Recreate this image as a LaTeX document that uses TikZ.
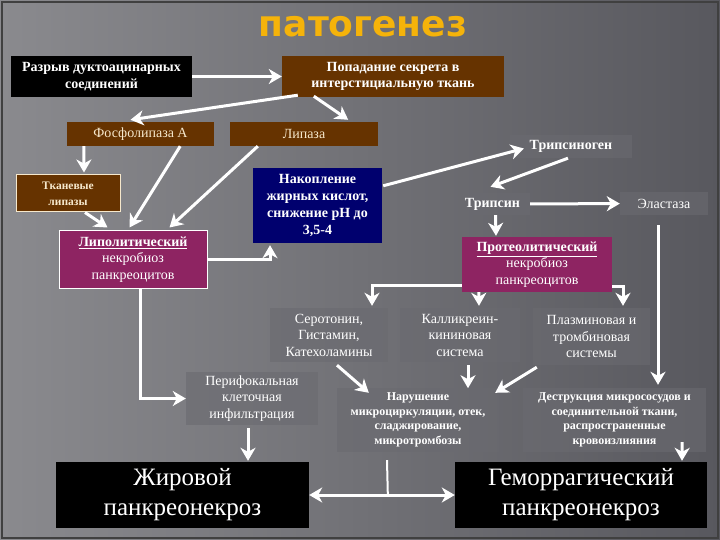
\documentclass[tikz,border=0pt]{standalone}
\usepackage{fontspec}
\setmainfont{Liberation Serif}
\newfontfamily\titlefont{DejaVu Sans}
\usetikzlibrary{arrows.meta,calc}
\definecolor{bgleft}{HTML}{8A8A8E}
\definecolor{bgright}{HTML}{58585E}
\definecolor{brownc}{HTML}{663300}
\definecolor{creamc}{HTML}{F6E8CC}
\definecolor{navyc}{HTML}{00006E}
\definecolor{magc}{HTML}{8E2462}
\definecolor{orangec}{HTML}{F5B30A}
\definecolor{faintc}{HTML}{6A6A70}

\begin{document}
\begin{tikzpicture}[x=1pt, y=-1pt, >={Stealth[length=13pt, width=15pt, inset=4pt]},
                    every edge/.style={draw=white, line width=3pt},
                    arr/.style={->, draw=white, line width=3pt},
                    blackbox/.style={fill=black, text=white, align=center, inner sep=0pt},
                    brownbox/.style={fill=brownc, text=creamc, align=center, inner sep=0pt},
                    navybox/.style={fill=navyc, text=white, align=center, inner sep=0pt},
                    magbox/.style={fill=magc, text=white, align=center, inner sep=0pt},
                    faintbox/.style={fill=faintc, fill opacity=0.6, text opacity=1, text=white, align=center, inner sep=0pt},
                    txt/.style={font=\fontsize{14}{16.5}\selectfont},
                    boldtxt/.style={font=\fontsize{14}{16.5}\selectfont\bfseries},
                    smalltxt/.style={font=\fontsize{12}{14.5}\selectfont\bfseries},
                    bigtxt/.style={font=\fontsize{25}{30}\selectfont}]

\shade[left color=bgleft, right color=bgright] (0,0) rectangle (720,540);
\draw[black!75, line width=2pt] (2,2) rectangle (718,538);
\useasboundingbox (0,0) rectangle (720,540);

\node[text=orangec, font=\titlefont\bfseries\fontsize{36}{36}\selectfont] (title) at (363,27) {патогенез};

\node[blackbox, boldtxt, minimum width=181, minimum height=41] (rupt) at (101.5,76.5) {Разрыв дуктоацинарных\\соединений};
\node[brownbox, boldtxt, text=white, minimum width=222, minimum height=41] (secr) at (393,76.5) {Попадание секрета в\\интерстициальную ткань};
\node[brownbox, txt, minimum width=147, minimum height=24] (phos) at (140.5,134) {Фосфолипаза А};
\node[brownbox, txt, minimum width=148, minimum height=24] (lip) at (304,134) {Липаза};
\node[faintbox, boldtxt, minimum width=122, minimum height=23] (tgen) at (571,146.5) {Трипсиноген};
\node[brownbox, smalltxt, font=\fontsize{11.5}{16}\selectfont\bfseries, draw=creamc, line width=1pt, minimum width=104, minimum height=37] (tisl) at (68,193.5) {Тканевые\\липазы};
\node[navybox, boldtxt, font=\fontsize{14}{17}\selectfont\bfseries, minimum width=129, minimum height=75] (acc) at (317.5,205.5) {Накопление\\жирных кислот,\\снижение рН до\\3,5-4};
\node[magbox, txt, draw=white, line width=1pt, minimum width=148, minimum height=57] (lnec) at (133,259.5) {\underline{\textbf{Липолитический}}\\некробиоз\\панкреоцитов};
\node[faintbox, boldtxt, minimum width=75, minimum height=22] (tsin) at (492.5,204) {Трипсин};
\node[faintbox, txt, minimum width=88, minimum height=23] (elas) at (664,203.5) {Эластаза};
\node[magbox, txt, minimum width=150, minimum height=55] (pnec) at (537,264.5) {\underline{\textbf{Протеолитический}}\\некробиоз\\панкреоцитов};
\node[faintbox, txt, minimum width=118, minimum height=54] (sero) at (329,335) {Серотонин,\\Гистамин,\\Катехоламины};
\node[faintbox, txt, minimum width=120, minimum height=54] (kall) at (460,335) {Калликреин-\\кининовая\\система};
\node[faintbox, txt, minimum width=117, minimum height=57] (plas) at (591.5,336.5) {Плазминовая и\\тромбиновая\\системы};
\node[faintbox, txt, minimum width=132, minimum height=53] (peri) at (252,398.5) {Перифокальная\\клеточная\\инфильтрация};
\node[faintbox, smalltxt, minimum width=162, minimum height=64] (micro) at (418,420) {Нарушение\\микроциркуляции, отек,\\сладжирование,\\микротромбозы};
\node[faintbox, smalltxt, minimum width=183, minimum height=64] (destr) at (614.5,420) {Деструкция микрососудов и\\соединительной ткани,\\распространенные\\кровоизлияния};
\node[blackbox, bigtxt, minimum width=253, minimum height=66] (fat) at (182.5,495) {Жировой\\панкреонекроз};
\node[blackbox, bigtxt, minimum width=252, minimum height=66] (hem) at (581,495) {Геморрагический\\панкреонекроз};

\path[->]
(rupt) edge (secr)
($(secr.south west)+(16,-2)$) edge ($(phos.north)+(-10,-2)$)
($(secr.south west)+(32,-1)$) edge ($(lip.north east)+(-30,-2)$)
($(phos.south west)+(17,0)$) edge ($(tisl.north)+(16,-2)$)
($(tisl.south)+(17,0)$) edge ($(lnec.north west)+(49,-3)$)
($(phos.south east)+(-34,0)$) edge ($(lnec.north west)+(71,-3)$)
($(lip.south west)+(28,0)$) edge ($(lnec.north west)+(111,-3)$)
($(acc.north east)+(1,18)$) edge ($(tgen.west)+(14,2)$)
($(tgen.south)+(-3,0)$) edge ($(tsin.north)+(-2,-6)$)
(tsin) edge (elas)
($(tsin.south)+(3,0)$) edge ($(pnec.north)+(-41,-1)$)
($(sero.south)+(8,3)$) edge ($(micro.north west)+(32,5)$)
($(kall.south)+(8,3)$) edge ($(kall.south)+(8,26)$)
($(plas.south west)+(4,2)$) edge ($(micro.north east)+(-4,5)$)
($(peri.south)+(-4,3)$) edge ($(fat.north)+(65.5,-1)$)
($(destr.south east)+(-24,-10)$) edge ($(hem.north)+(101,-1)$);

\draw[arr] (lnec.east) -| ($(acc.south)+(-47.5,2)$);
\draw[arr] ($(elas.south)+(-6,10)$) -- ($(destr.north)+(43.5,-3)$);
\draw[arr] ($(pnec.south west)+(0,-7)$) -| ($(sero.north)+(43,-2)$);
\draw[arr] ($(pnec.south west)+(17,0)$) -- ($(kall.north)+(19,-2)$);
\draw[arr] ($(pnec.south east)+(0,-6)$) -| ($(plas.north)+(31.5,-2)$);
\draw[arr] ($(lnec.south)+(7,0)$) |- (peri.west);
\draw[arr, <->] (fat.east) -- (hem.west);
\draw[draw=white, line width=2pt] ($(micro.south)+(-31,8)$) -- ($(fat.east)!0.54!(hem.west)$);
\end{tikzpicture}
\end{document}
